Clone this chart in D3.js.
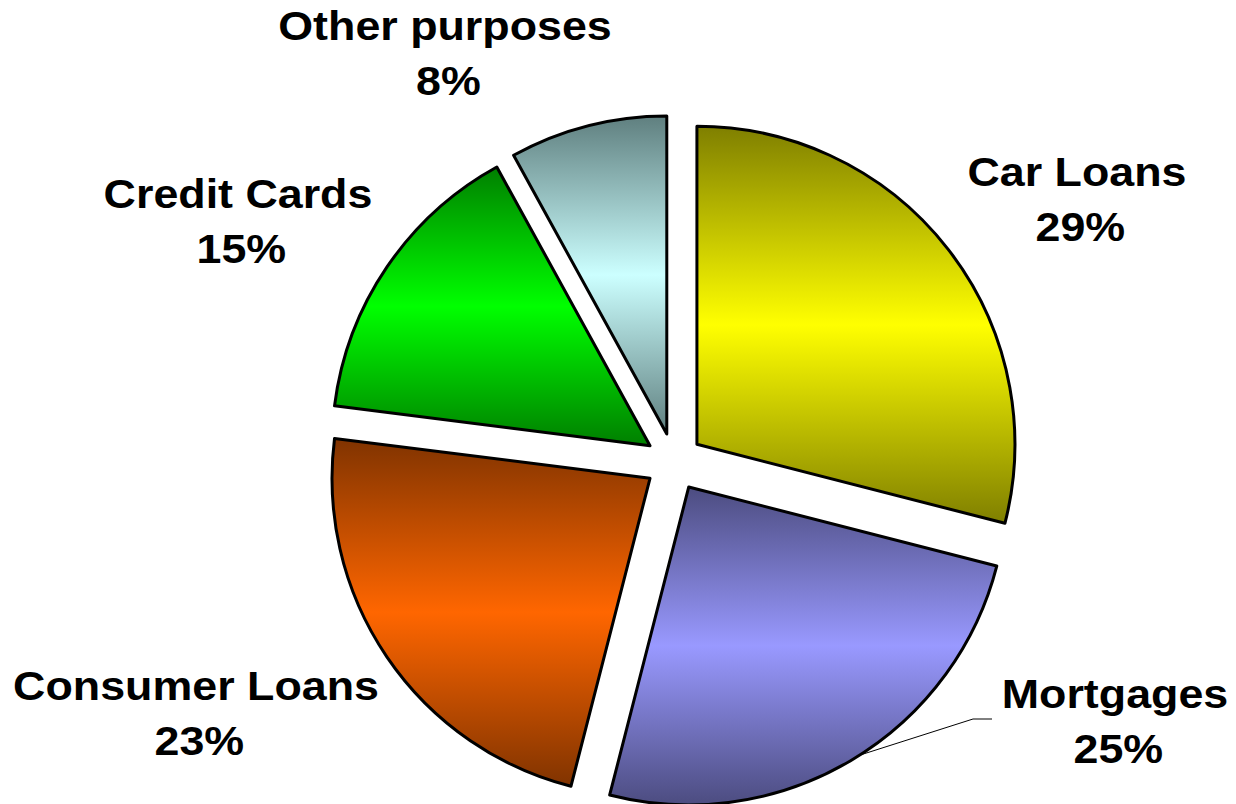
<!DOCTYPE html>
<html>
<head>
<meta charset="utf-8">
<script src="https://cdn.jsdelivr.net/npm/d3@7"></script>
<style>
  html, body { margin: 0; padding: 0; background: #fff; }
  svg { display: block; }
  .lbl { font-family: "Liberation Sans", Arial, sans-serif; font-weight: bold; font-size: 40px; fill: #000; }
</style>
</head>
<body>
<svg id="chart" width="1236" height="804"></svg>
<script>
// Loan purposes, share of total (%)
const categories = ["Car Loans", "Mortgages", "Consumer Loans", "Credit Cards", "Other purposes"];
const values = [29, 25, 23, 15, 8];

// Gradient colours per slice: [edge shade, centre shade]
const shades = [
  ["#7f7f00", "#ffff00"],
  ["#4c4c80", "#9999ff"],
  ["#803300", "#ff6600"],
  ["#007f00", "#00ff00"],
  ["#5f7f7f", "#ccffff"]
];

// Label anchor (centre of first line baseline) per slice
const labelPos = [
  [1077, 186],
  [1115, 708],
  [196, 700],
  [238, 208],
  [445, 40]
];

const W = 1236, H = 804;
const cx = 674, cy = 462, R = 318, explode = 29;

const svg = d3.select("#chart");
const defs = svg.append("defs");

const pie = d3.pie().sort(null).value(d => d.value);
const arc = d3.arc().innerRadius(0).outerRadius(R);

const data = categories.map((c, i) => ({ name: c, value: values[i], shade: shades[i], pos: labelPos[i] }));
const arcs = pie(data);

// one vertical dark-bright-dark gradient per slice
arcs.forEach((a, i) => {
  const g = defs.append("linearGradient")
    .attr("id", "grad" + i)
    .attr("x1", 0).attr("y1", 0).attr("x2", 0).attr("y2", 1);
  g.append("stop").attr("offset", "0%").attr("stop-color", a.data.shade[0]);
  g.append("stop").attr("offset", "50%").attr("stop-color", a.data.shade[1]);
  g.append("stop").attr("offset", "100%").attr("stop-color", a.data.shade[0]);
});

function offsetOf(a) {
  const mid = (a.startAngle + a.endAngle) / 2;
  return [Math.sin(mid) * explode, -Math.cos(mid) * explode];
}

const slices = svg.append("g").attr("transform", `translate(${cx},${cy})`);

slices.selectAll("path.slice")
  .data(arcs)
  .join("path")
  .attr("class", "slice")
  .attr("transform", d => { const o = offsetOf(d); return `translate(${o[0]},${o[1]})`; })
  .attr("d", arc)
  .attr("fill", (d, i) => `url(#grad${i})`)
  .attr("stroke", "#000")
  .attr("stroke-width", 3)
  .attr("stroke-linejoin", "round");

// leader line for the Mortgages label
const m = arcs[1];
const mo = offsetOf(m);
const ang = (m.startAngle + m.endAngle) / 2 - 0.033;
const tip = [cx + mo[0] + Math.sin(ang) * R, cy + mo[1] - Math.cos(ang) * R];
svg.append("path")
  .attr("d", d3.line()([[992, 719], [973, 719], tip]))
  .attr("fill", "none")
  .attr("stroke", "#000")
  .attr("stroke-width", 1);

// labels: name and share on two lines
const labels = svg.selectAll("g.label")
  .data(arcs)
  .join("g")
  .attr("class", "label")
  .attr("transform", d => `translate(${d.data.pos[0]},${d.data.pos[1]}) scale(1.12,1)`);

const txt = labels.append("text").attr("class", "lbl").attr("text-anchor", "middle");
txt.append("tspan").attr("x", 0).attr("y", 0).text(d => d.data.name);
txt.append("tspan").attr("x", 3).attr("y", 55).text(d => d.data.value + "%");
</script>
</body>
</html>
